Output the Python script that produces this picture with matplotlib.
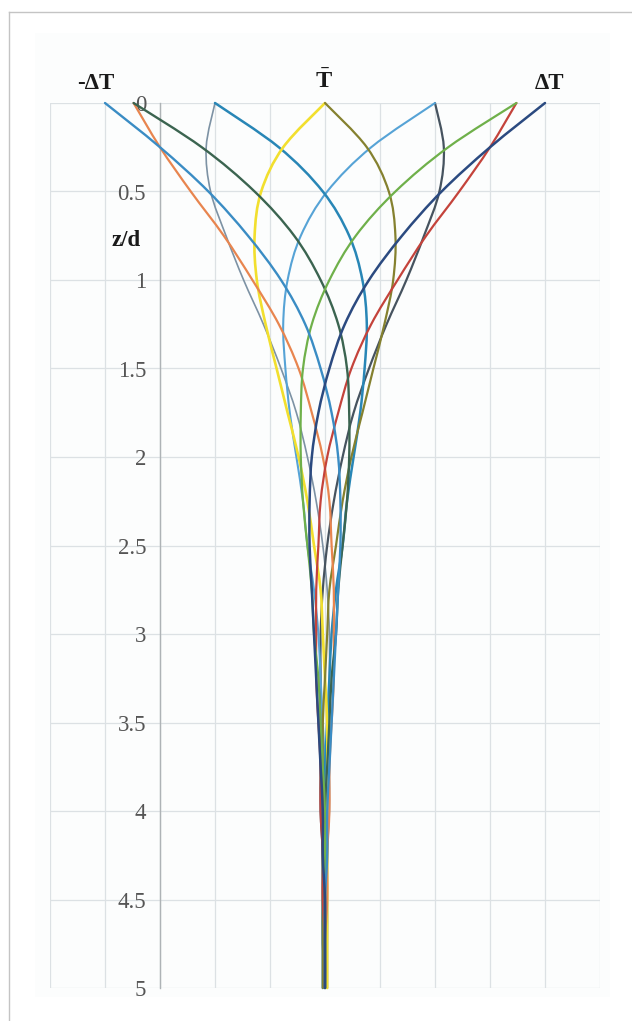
import matplotlib
matplotlib.use("Agg")
import matplotlib.pyplot as plt
from matplotlib.path import Path
from matplotlib.patches import PathPatch, Rectangle
from matplotlib.lines import Line2D

plt.rcParams["font.family"] = ["Liberation Serif", "DejaVu Serif"]
plt.rcParams["mathtext.fontset"] = "custom"
plt.rcParams["mathtext.rm"] = "Liberation Serif"
plt.rcParams["mathtext.bf"] = "Liberation Serif:bold"

# Relative depth z/d at which each temperature profile is tabulated
depth = [0.0, 0.25, 0.5, 0.75, 1.0, 1.25, 1.5, 1.75, 2.0, 2.25, 2.5,
         2.75, 3.0, 3.25, 3.5, 3.75, 4.0, 4.25, 4.5, 4.75, 5.0]

# Temperature deviation (T - T̄)/ΔT along depth, one profile every 1/12 of the cycle
profile_000 = [1.00, 0.75, 0.53, 0.35, 0.20, 0.09, 0.02, -0.03, -0.06, -0.07, -0.07,
               -0.06, -0.05, -0.04, -0.03, -0.02, -0.01, -0.01, 0.00, 0.00, 0.00]
profile_030 = [0.87, 0.75, 0.61, 0.46, 0.33, 0.21, 0.12, 0.06, 0.01, -0.02, -0.03,
               -0.04, -0.04, -0.04, -0.03, -0.02, -0.02, -0.01, -0.01, 0.00, 0.00]
profile_060 = [0.50, 0.54, 0.52, 0.45, 0.37, 0.28, 0.20, 0.13, 0.08, 0.04, 0.01,
               -0.01, -0.02, -0.02, -0.02, -0.02, -0.02, -0.01, -0.01, -0.01, 0.00]
profile_090 = [0.00, 0.19, 0.29, 0.32, 0.31, 0.27, 0.22, 0.17, 0.12, 0.08, 0.05,
               0.02, 0.01, 0.00, -0.01, -0.01, -0.01, -0.01, -0.01, -0.01, -0.01]
profile_120 = [-0.50, -0.21, -0.01, 0.11, 0.17, 0.19, 0.18, 0.16, 0.13, 0.10, 0.08,
               0.05, 0.03, 0.02, 0.01, 0.00, -0.01, -0.01, -0.01, -0.01, -0.01]
profile_150 = [-0.87, -0.56, -0.32, -0.14, -0.02, 0.06, 0.10, 0.11, 0.11, 0.10, 0.08,
               0.06, 0.05, 0.03, 0.02, 0.01, 0.00, 0.00, 0.00, 0.00, 0.00]
profile_180 = [-1.00, -0.75, -0.53, -0.35, -0.20, -0.09, -0.02, 0.03, 0.06, 0.07, 0.07,
               0.06, 0.05, 0.04, 0.03, 0.02, 0.01, 0.01, 0.00, 0.00, 0.00]
profile_210 = [-0.87, -0.75, -0.61, -0.46, -0.33, -0.21, -0.12, -0.06, -0.01, 0.02, 0.03,
               0.04, 0.04, 0.04, 0.03, 0.02, 0.02, 0.01, 0.01, 0.00, 0.00]
profile_240 = [-0.50, -0.54, -0.52, -0.45, -0.37, -0.28, -0.20, -0.13, -0.08, -0.04, -0.01,
               0.01, 0.02, 0.02, 0.02, 0.02, 0.02, 0.01, 0.01, 0.01, 0.00]
profile_270 = [0.00, -0.19, -0.29, -0.32, -0.31, -0.27, -0.22, -0.17, -0.12, -0.08, -0.05,
               -0.02, -0.01, 0.00, 0.01, 0.01, 0.01, 0.01, 0.01, 0.01, 0.01]
profile_300 = [0.50, 0.21, 0.01, -0.11, -0.17, -0.19, -0.18, -0.16, -0.13, -0.10, -0.08,
               -0.05, -0.03, -0.02, -0.01, 0.00, 0.01, 0.01, 0.01, 0.01, 0.01]
profile_330 = [0.87, 0.56, 0.32, 0.14, 0.02, -0.06, -0.10, -0.11, -0.11, -0.10, -0.08,
               -0.06, -0.05, -0.03, -0.02, -0.01, 0.00, 0.00, 0.00, 0.00, 0.00]

depth_ticks = [0, 0.5, 1, 1.5, 2, 2.5, 3, 3.5, 4, 4.5, 5]
depth_labels = ["0", "0.5", "1", "1.5", "2", "2.5", "3", "3.5", "4", "4.5", "5"]
temp_grid = [-1.25, -1.0, -0.75, -0.5, -0.25, 0.0, 0.25, 0.5, 0.75, 1.0, 1.25]

series = [
    (profile_240, "#7d92a4", 1.2),
    (profile_060, "#46535f", 1.6),
    (profile_300, "#56a3d6", 1.5),
    (profile_120, "#2886b6", 1.8),
    (profile_270, "#f2df2e", 1.9),
    (profile_090, "#85812f", 1.6),
    (profile_210, "#e8854f", 1.6),
    (profile_030, "#c4433b", 1.6),
    (profile_150, "#3b6450", 1.7),
    (profile_330, "#6fb04a", 1.6),
    (profile_180, "#3a8cc4", 1.7),
    (profile_000, "#2b4a80", 1.8),
]


def smooth_path(xs, ys):
    """Smoothed polyline through the tabulated points (cubic Bezier segments)."""
    pts = list(zip(xs, ys))
    n = len(pts)
    verts = [pts[0]]
    codes = [Path.MOVETO]
    for i in range(n - 1):
        p0 = pts[i - 1] if i > 0 else pts[i]
        p1 = pts[i]
        p2 = pts[i + 1]
        p3 = pts[i + 2] if i + 2 < n else pts[i + 1]
        c1 = (p1[0] + (p2[0] - p0[0]) / 6.0, p1[1] + (p2[1] - p0[1]) / 6.0)
        c2 = (p2[0] - (p3[0] - p1[0]) / 6.0, p2[1] - (p3[1] - p1[1]) / 6.0)
        verts += [c1, c2, p2]
        codes += [Path.CURVE4, Path.CURVE4, Path.CURVE4]
    return Path(verts, codes)


W, H = 632, 1021
fig = plt.figure(figsize=(W / 100, H / 100), dpi=100)
fig.patch.set_facecolor("white")

# thin frame on the top and left of the sheet
fig.add_artist(Line2D([9 / W, 9 / W], [0, 1 - 12 / H], transform=fig.transFigure,
                      color="#c4c4c4", lw=1.0))
fig.add_artist(Line2D([9 / W, 1], [1 - 12 / H, 1 - 12 / H], transform=fig.transFigure,
                      color="#c4c4c4", lw=1.0))
# faint chart area
fig.add_artist(Rectangle((35 / W, 1 - 997 / H), 575 / W, 964 / H, transform=fig.transFigure,
                         facecolor="#fcfdfd", edgecolor="none", zorder=0))

ax = fig.add_axes([50 / W, 1 - 988 / H, 550 / W, 885 / H])
ax.set_facecolor("none")
ax.set_xlim(temp_grid[0], temp_grid[-1])
ax.set_ylim(5, 0)

ax.set_xticks(temp_grid)
ax.set_xticklabels([])
ax.set_yticks(depth_ticks)
ax.set_yticklabels(depth_labels)
ax.tick_params(axis="x", length=0)
ax.tick_params(axis="y", length=0, pad=10, labelsize=16.5, labelcolor="#555555",
               labelfontfamily="Liberation Serif")
ax.grid(True, color="#dce1e4", lw=0.9)
ax.set_axisbelow(True)

for side in ("top", "right", "bottom"):
    ax.spines[side].set_visible(False)
ax.spines["left"].set_position(("data", -0.75))
ax.spines["left"].set_color("#aeb3b6")
ax.spines["left"].set_linewidth(1.0)

for values, color, lw in series:
    patch = PathPatch(smooth_path(values, depth), facecolor="none", edgecolor=color,
                      lw=lw, clip_on=False, zorder=3, capstyle="round", joinstyle="round")
    ax.add_patch(patch)

label_kw = dict(fontfamily="Liberation Serif", fontweight="bold", fontsize=16.5,
                color="#1a1a1a", ha="center", va="center", clip_on=False)
ax.text(-1.04, -0.11, "-ΔT", **label_kw)
ax.text(1.02, -0.11, "ΔT", **label_kw)
ax.text(-0.005, -0.12, r"$\mathbf{\bar{T}}$", fontsize=17.5, color="#1a1a1a",
        ha="center", va="center", clip_on=False)
ax.text(-0.905, 0.775, "z/d", **label_kw)

fig.savefig("out.png", dpi=100)
